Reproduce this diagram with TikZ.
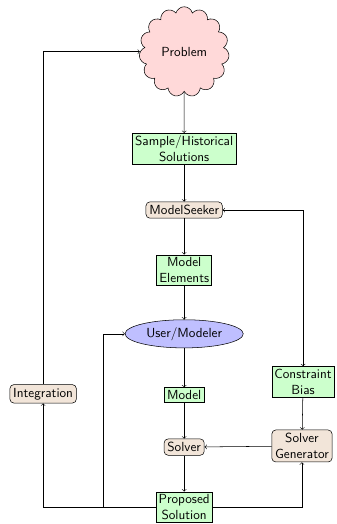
\documentclass[tikz,border=0pt]{standalone}
\usetikzlibrary{shapes.symbols,shapes.geometric}

\begin{document}
\begin{tikzpicture}[auto,
    every node/.style={font=\sffamily, align=center},
    data/.style={draw, fill=green!20, inner sep=2pt},
    tool/.style={draw, rounded corners=3pt, fill=brown!20, inner sep=2.5pt},
    actor/.style={draw, ellipse, fill=blue!25, minimum width=3.15cm, minimum height=0.75cm, inner sep=1pt},
    task/.style={draw, cloud, cloud puffs=15, aspect=1, fill=red!15, minimum width=2.4cm, minimum height=2.4cm}]
    \useasboundingbox (0,0) rectangle (8.96,13.97);
    \node[task]  (problem)     at (4.91,12.59) {Problem};
    \node[data]  (sample)      at (4.91,10.00) {Sample/Historical\\Solutions};
    \node[tool]  (seeker)      at (4.91, 8.37) {ModelSeeker};
    \node[data]  (elements)    at (4.91, 6.77) {Model\\Elements};
    \node[actor] (user)        at (4.91, 5.07) {User/Modeler};
    \node[data]  (model)       at (4.91, 3.44) {Model};
    \node[tool]  (solver)      at (4.91, 2.05) {Solver};
    \node[data]  (proposed)    at (4.91, 0.45) {Proposed\\Solution};
    \node[tool]  (integration) at (1.15, 3.47) {Integration};
    \node[data]  (bias)        at (8.08, 3.79) {Constraint\\Bias};
    \node[tool]  (generator)   at (8.05, 2.08) {Solver\\Generator};
    \coordinate (back) at (2.75, 5.07);
    \draw [->] (problem) -- (sample);
    \draw [->] (sample) -- (seeker);
    \draw [->] (seeker) -- (elements);
    \draw [->] (elements) -- (user);
    \draw [->] (user) -- (model);
    \draw [->] (model) -- (solver);
    \draw [->] (solver) -- (proposed);
    \draw [->] (proposed) -| (integration);
    \draw [->] (integration) |- (problem);
    \draw [->] (proposed) -| (back) -- (user);
    \draw [->] (proposed) -| (generator);
    \draw [->] (generator) -- (solver);
    \draw [<->] (seeker) -| (bias);
    \draw [->] (bias) -- (generator);
\end{tikzpicture}
\end{document}
